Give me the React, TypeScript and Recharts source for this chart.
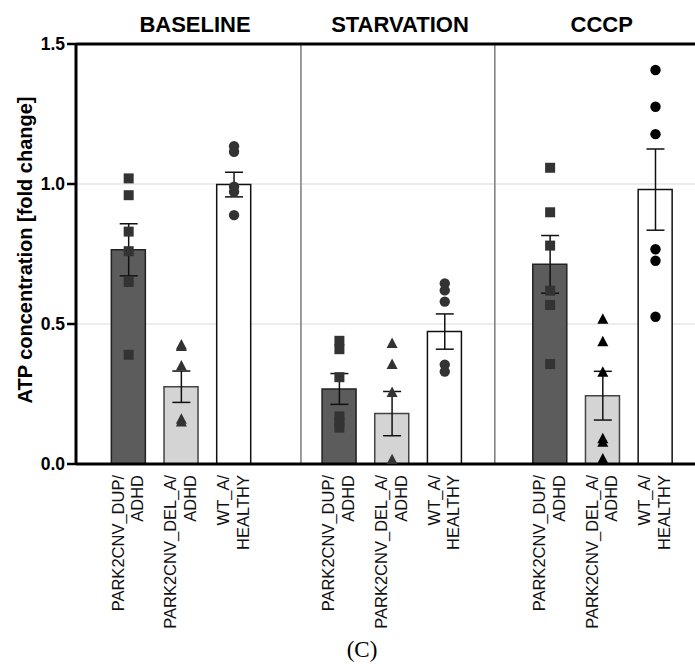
import React from 'react';
import {
  ComposedChart,
  Bar,
  Cell,
  Scatter,
  ErrorBar,
  XAxis,
  YAxis,
  CartesianGrid,
  ReferenceLine,
  ReferenceDot,
} from 'recharts';

// ---- data ----
const conditions = ['BASELINE', 'STARVATION', 'CCCP'];
const genotypeLabels = [
  ['PARK2CNV_DUP/', 'ADHD'],
  ['PARK2CNV_DEL_A/', 'ADHD'],
  ['WT_A/', 'HEALTHY'],
];
const yTicks = [0, 0.5, 1.0, 1.5];

const baselineMeans = [0.765, 0.276, 0.998];
const baselineSems = [0.093, 0.056, 0.044];
const starvationMeans = [0.268, 0.18, 0.473];
const starvationSems = [0.055, 0.079, 0.063];
const cccpMeans = [0.713, 0.244, 0.98];
const cccpSems = [0.103, 0.087, 0.145];

const baselineDup = [1.02, 0.96, 0.83, 0.76, 0.65, 0.39];
const baselineDel = [0.425, 0.42, 0.35, 0.16, 0.15];
const baselineWt = [1.135, 1.115, 0.99, 0.972, 0.889];
const starvationDup = [0.44, 0.41, 0.31, 0.17, 0.15, 0.13];
const starvationDel = [0.43, 0.355, 0.255, 0.015];
const starvationWt = [0.645, 0.62, 0.58, 0.355, 0.33];
const cccpDup = [1.058, 0.899, 0.78, 0.619, 0.568, 0.357];
const cccpDel = [0.517, 0.437, 0.328, 0.09, 0.078, 0.018];
const cccpWt = [1.407, 1.276, 1.178, 0.767, 0.726, 0.526];

// ---- styling / layout ----
const barFills = ['#5c5c5c', '#d4d4d4', '#ffffff'];
const barStrokes = ['#222222', '#444444', '#111111'];
const pointColors = [
  ['#333333', '#333333', '#333333'],
  ['#333333', '#333333', '#333333'],
  ['#333333', '#000000', '#000000'],
];
const xDomain: [number, number] = [-1, 10.75];
const separatorsX = [3.27, 6.95];
const titleX = [1.26, 5.15, 8.98];
const FONT = '"Liberation Sans", Arial, Helvetica, sans-serif';

const meansByCond = [baselineMeans, starvationMeans, cccpMeans];
const semsByCond = [baselineSems, starvationSems, cccpSems];
const pointsByCond = [
  [baselineDup, baselineDel, baselineWt],
  [starvationDup, starvationDel, starvationWt],
  [cccpDup, cccpDel, cccpWt],
];

const barRows: { x: number; y: number; mean: number; sem: number; g: number }[] = [];
conditions.forEach((_, c) => {
  [0, 1, 2].forEach((g) => {
    barRows.push({ x: c * 4 + g, y: meansByCond[c][g], mean: meansByCond[c][g], sem: semsByCond[c][g], g });
  });
});

const pointSeries = [0, 1, 2].map((g) => {
  const arr: { x: number; y: number; color: string }[] = [];
  conditions.forEach((_, c) => {
    pointsByCond[c][g].forEach((v) => arr.push({ x: c * 4 + g, y: v, color: pointColors[c][g] }));
  });
  return arr;
});

const xTicks = barRows.map((r) => r.x);

const Square = (p: any) => {
  const color = p.payload?.color ?? p.color;
  return <rect x={p.cx - 5} y={p.cy - 5} width={10} height={10} fill={color} />;
};
const Triangle = (p: any) => {
  const color = p.payload?.color ?? p.color;
  return (
    <polygon
      points={`${p.cx},${p.cy - 6} ${p.cx - 5.5},${p.cy + 4.5} ${p.cx + 5.5},${p.cy + 4.5}`}
      fill={color}
    />
  );
};
const Dot = (p: any) => {
  const color = p.payload?.color ?? p.color;
  return <circle cx={p.cx} cy={p.cy} r={5.2} fill={color} />;
};
const shapes = [Square, Triangle, Dot];

const BottomTick = (props: any) => {
  const { x, payload } = props;
  const g = Math.round(payload.value) % 4;
  const lines = genotypeLabels[g] || ['', ''];
  return (
    <g transform={`translate(${x},${475})`}>
      <text
        transform="rotate(-90)"
        textAnchor="end"
        fontFamily={FONT}
        fontSize={16.5}
        fill="#111"
      >
        <tspan x={0} y={-5}>{lines[0]}</tspan>
        <tspan x={0} y={14.5}>{lines[1]}</tspan>
      </text>
    </g>
  );
};

const makeTitle = (text: string) => (p: any) => {
  const vb = p.viewBox || { x: 0, y: 44, width: 0, height: 0 };
  const cx = vb.x + (vb.width || 0) / 2;
  return (
    <text x={cx} y={32} textAnchor="middle" fontFamily={FONT} fontWeight="bold" fontSize={22} fill="#000">
      {text}
    </text>
  );
};

const YLabel = (props: any) => {
  const vb = props.viewBox || { x: 0, y: 44, width: 76, height: 420 };
  const cx = 32;
  const cy = vb.y + vb.height / 2 - 4;
  return (
    <text
      x={cx}
      y={cy}
      transform={`rotate(-90, ${cx}, ${cy})`}
      textAnchor="middle"
      fontFamily={FONT}
      fontWeight="bold"
      fontSize={20}
      fill="#000"
    >
      ATP concentration [fold change]
    </text>
  );
};

export default function App() {
  return (
    <div style={{ position: 'absolute', left: 0, top: 0, width: 695, height: 669, background: '#fff' }}>
      <ComposedChart
        width={695}
        height={669}
        data={barRows}
        margin={{ top: 4, right: 0, bottom: 0, left: 0 }}
      >
        <CartesianGrid vertical={false} stroke="#d9d9d9" strokeWidth={1} />
        <XAxis
          dataKey="x"
          type="number"
          domain={xDomain}
          allowDataOverflow
          ticks={xTicks}
          interval={0}
          tick={<BottomTick />}
          tickLine={false}
          axisLine={{ stroke: '#000', strokeWidth: 3 }}
          height={205}
        />
        <XAxis
          xAxisId="top"
          orientation="top"
          type="number"
          domain={xDomain}
          allowDataOverflow
          tick={false}
          tickLine={false}
          axisLine={{ stroke: '#000', strokeWidth: 3 }}
          height={40}
        />
        <YAxis
          dataKey="y"
          type="number"
          domain={[0, 1.5]}
          ticks={yTicks}
          interval={0}
          allowDataOverflow
          width={76}
          tickFormatter={(v: number) => v.toFixed(1)}
          tick={{ fontFamily: FONT, fontWeight: 'bold', fontSize: 17.5, fill: '#000' }}
          tickSize={9}
          tickMargin={2}
          tickLine={{ stroke: '#000', strokeWidth: 2.5 }}
          axisLine={{ stroke: '#000', strokeWidth: 3 }}
          label={<YLabel />}
        />
        {separatorsX.map((sx) => (
          <ReferenceLine key={sx} x={sx} stroke="#7a7a7a" strokeWidth={1.5} />
        ))}
        {conditions.map((c, i) => (
          <ReferenceDot
            key={c}
            x={titleX[i]}
            y={1.5}
            r={0}
            fill="none"
            stroke="none"
            ifOverflow="visible"
            label={{ content: makeTitle(c) }}
          />
        ))}
        <Bar dataKey="mean" barSize={34} isAnimationActive={false}>
          {barRows.map((r, i) => (
            <Cell key={i} fill={barFills[r.g]} stroke={barStrokes[r.g]} strokeWidth={1.5} />
          ))}
        </Bar>
        {pointSeries.map((pts, g) => (
          <Scatter key={g} data={pts} shape={shapes[g]} isAnimationActive={false} />
        ))}
        <Scatter data={barRows} shape={() => <g />} isAnimationActive={false}>
          <ErrorBar dataKey="sem" direction="y" width={9} stroke="#111" strokeWidth={1.5} />
        </Scatter>
      </ComposedChart>
      <div
        style={{
          position: 'absolute',
          left: 0,
          width: 724,
          top: 637,
          textAlign: 'center',
          fontFamily: '"Liberation Serif", "Times New Roman", serif',
          fontSize: 23,
          color: '#000',
        }}
      >
        (C)
      </div>
    </div>
  );
}
